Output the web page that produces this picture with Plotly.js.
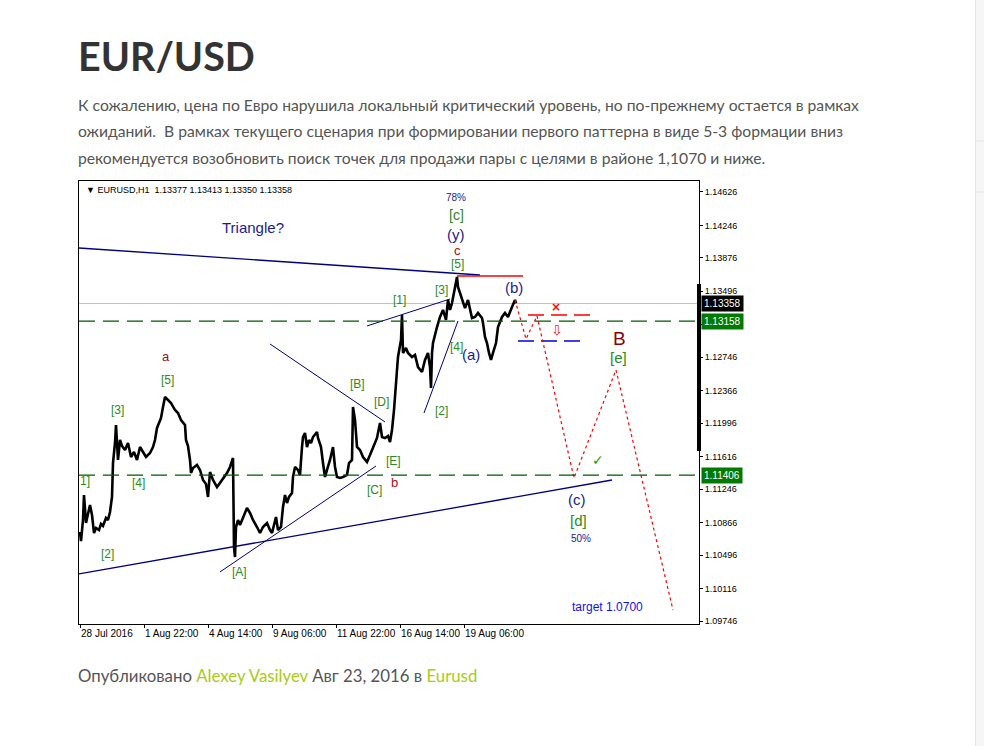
<!DOCTYPE html>
<html><head><meta charset="utf-8">
<script src="https://cdn.plot.ly/plotly-3.0.1.min.js"></script>
<style>html,body{margin:0;padding:0;background:#fff;overflow:hidden}#chart{width:984px;height:746px}</style>
</head><body><div id="chart"></div>
<script>
// ---- price path (H1 bars, bar index from 28 Jul 2016) ----
const barIndex = [0,1,3,4,6,8,10,12,14,16,19,21,23,26,28,30,31,32,33,35,36,37,38,40,42,45,48,51,54,57,60,63,66,70,73,75,77,79,81,83,85,88,91,95,98,101,105,106,108,110,111,
113,117,120,123,126,128,130,133,137,140,143,147,150,152,153,154,155,156,158,160,163,165,167,170,173,177,180,183,187,190,192,196,198,201,203,205,207,209,212,
213,215,218,220,222,223,225,227,229,231,233,237,238,241,243,245,247,250,253,255,257,260,263,267,269,272,273,275,277,280,283,287,290,293,297,300,302,305,308,310,312,314,
315,317,318,320,321,322,323,326,328,332,335,338,342,345,348,350,351,352,353,357,360,363,366,368,370,372,373,375,377,378,380,383,385,388,390,392,395,398,402,403,405,407,409,411,413,416,418,422,425,428,432,435,436];
const closePrice = [1.10759,1.10656,1.10895,1.11179,1.10861,1.10986,1.11066,1.10952,1.10747,1.10804,1.10781,1.10850,1.10827,1.10918,1.10895,1.10986,1.11123,1.11157,1.11543,1.11771,1.11976,1.11748,1.11578,1.11805,1.11737,1.11691,1.11771,1.11612,1.11669,1.11578,1.11725,1.11669,1.11612,1.11657,1.11725,1.11805,1.11942,1.11998,1.12055,1.12180,1.12294,1.12260,1.12226,1.12146,1.12112,1.12033,1.11976,1.11805,1.11737,1.11578,1.11430,
1.11487,1.11521,1.11464,1.11350,1.11305,1.11157,1.11441,1.11350,1.11270,1.11316,1.11373,1.11430,1.11498,1.11578,1.11600,1.10588,1.10474,1.10815,1.10895,1.10838,1.10918,1.10986,1.11031,1.10975,1.10895,1.10815,1.10747,1.10815,1.10861,1.10781,1.10747,1.10929,1.10781,1.10815,1.11043,1.11179,1.11088,1.11157,1.11202,
1.11384,1.11498,1.11464,1.11407,1.11725,1.11839,1.11885,1.11725,1.11805,1.11771,1.11839,1.11896,1.11828,1.11725,1.11543,1.11384,1.11464,1.11578,1.11725,1.11498,1.11384,1.11373,1.11384,1.11407,1.11543,1.11578,1.12180,1.12033,1.11725,1.11691,1.11612,1.11555,1.11634,1.11725,1.11828,1.11998,1.11839,1.11828,1.11851,1.11782,1.11919,1.12146,
1.12340,1.12601,1.12749,1.12863,1.12943,1.13227,1.12795,1.12852,1.12795,1.12749,1.12772,1.12635,1.12579,1.12715,1.12795,1.12635,1.12397,1.12795,1.12908,1.13090,1.13204,1.13284,1.13170,1.13398,1.13284,1.13363,1.13432,1.13545,1.13659,1.13545,1.13477,1.13398,1.13306,1.13398,1.13284,1.13193,1.13204,1.13250,1.13193,1.13136,1.12977,1.12908,1.12795,1.12715,1.12795,1.12908,1.13090,1.13204,1.13250,1.13204,1.13318,1.13398,1.13358];

// ---- projected scenario (red dotted) ----
const projBar = [435,446,457,494,536,593];
const projPrice = [1.13398,1.12954,1.13216,1.11373,1.12601,1.09871];

// ---- axes ----
const xTickBars = [0,64,128,192,256,320,384];
const xTickLabels = ["28 Jul 2016","1 Aug 22:00","4 Aug 14:00","9 Aug 06:00","11 Aug 22:00","16 Aug 14:00","19 Aug 06:00"];
const yTickPrices = [1.14626,1.14246,1.13876,1.13496,1.13116,1.12746,1.12366,1.11996,1.11616,1.11246,1.10866,1.10496,1.10116,1.09746];

// ---- levels ----
const lastPrice = 1.13358;
const greenLevels = [1.13158,1.11406];

// ---- trend lines [bar0, price0, bar1, price1] ----
const triangleUpper = [-1,1.13989,400,1.13682];
const triangleLower = [-1,1.10281,532,1.11350];
const lineAC = [140,1.10304,296,1.11509];
const lineBD = [190,1.12897,305,1.12010];
const line13 = [287,1.13102,370,1.13409];
const line24 = [344,1.12112,378,1.13159];
const redTop = [377,1.13671,443,1.13671];
const redStop = [448,1.13227,513,1.13227];
const blueEntry = [438,1.12931,503,1.12931];

// ---- wave labels ----
const waveText  = ["Triangle?","78%","[c]","(y)","c","[5]","[3]","[1]","(b)","[4]","(a)","[2]","[B]","[D]","[E]","b","[C]","a","[5]","[3]","[4]","1]","[2]","[A]","B","[e]","(c)","[d]","50%","target 1.0700"];
const waveBar   = [173,376,376,376,377,377,361,319,434,376,391,361,277,301,313,314,294,86,87,37,58,5,27,159,539,538,497,498,501,527];
const wavePrice = [1.14217,1.14558,1.14364,1.14137,1.13966,1.13807,1.13511,1.13398,1.13534,1.12863,1.12772,1.12135,1.12442,1.12237,1.11566,1.11327,1.11236,1.12760,1.12488,1.12146,1.11316,1.11339,1.10508,1.10304,1.12954,1.12749,1.11123,1.10895,1.10679,1.09905];
const waveKind  = ["navyL","navyS","greenM","navyL","red","green","green","green","navyL","green","navyL","green","green","green","green","red","green","red","green","green","green","green","green","green","redL","greenL","navyL","greenL","navyS","blue"];

const GREEN="#2b8a1e", NAVY="#1c1c8c", DRED="#a01010", LINE="#000080";
const kindStyle = {
  navyL:{color:NAVY,size:15}, navyS:{color:NAVY,size:10}, green:{color:GREEN,size:12}, greenM:{color:GREEN,size:14},
  greenL:{color:GREEN,size:15}, red:{color:DRED,size:13}, redL:{color:"#8b0000",size:19},
  blue:{color:"#1010ee",size:12}
};

function seg(a,color,width,dash){
  return {type:"scatter",mode:"lines",x:[a[0],a[2]],y:[a[1],a[3]],line:{color:color,width:width,dash:dash||"solid"},hoverinfo:"skip",showlegend:false};
}
const traces = [
  seg(triangleUpper,LINE,1.3), seg(triangleLower,LINE,1.3), seg(lineAC,LINE,1), seg(lineBD,LINE,1),
  seg(line13,LINE,1), seg(line24,LINE,1), seg(redTop,"#ff0000",1.5),
  seg(redStop,"#ff0000",1.5,"16px,7px"), seg(blueEntry,"#0000dd",1.5,"16px,7px"),
  {type:"scatter",mode:"lines",x:barIndex,y:closePrice,line:{color:"#000",width:2.6},hoverinfo:"skip",showlegend:false},
  {type:"scatter",mode:"lines",x:projBar,y:projPrice,line:{color:"#ff0000",width:1.2,dash:"dot"},hoverinfo:"skip",showlegend:false}
];

const PX0=79, PW=620, PY1=624, PH=443;
const px = v => (v-PX0)/PW, py = v => (PY1-v)/PH;

const ann = [];
waveText.forEach((t,i)=>{
  const s = kindStyle[waveKind[i]];
  ann.push({x:waveBar[i],y:wavePrice[i],xref:"x",yref:"y",text:t,showarrow:false,borderpad:0,
    font:{family:"Liberation Sans, Arial",size:s.size,color:s.color}});
});
ann.push({x:4,y:1.14649,xref:"x",yref:"y",xanchor:"left",text:"▼ EURUSD,H1  1.13377 1.13413 1.13350 1.13358",showarrow:false,font:{family:"Liberation Sans, Arial",size:9,color:"#000"}});
ann.push({x:476,y:1.13318,xref:"x",yref:"y",text:"<b>×</b>",showarrow:false,font:{family:"DejaVu Sans",size:12,color:"#ff0000"}});
ann.push({x:477,y:1.13056,xref:"x",yref:"y",text:"⇩",showarrow:false,font:{family:"DejaVu Sans",size:14,color:"#ff2020"}});
ann.push({x:518,y:1.11578,xref:"x",yref:"y",text:"✓",showarrow:false,font:{family:"DejaVu Sans",size:14,color:"#1a9a1a"}});
// price tags on the scale
[[lastPrice,"#000"],[greenLevels[0],"#007a00"],[greenLevels[1],"#007a00"]].forEach(p=>{
  ann.push({x:px(701),y:p[0],xref:"paper",yref:"y",xanchor:"left",yanchor:"middle",text:p[0].toFixed(5),showarrow:false,
    bgcolor:p[1],borderpad:2,font:{family:"Liberation Sans, Arial",size:10,color:"#fff"}});
});
// page texts
ann.push({x:px(76),y:py(56),xref:"paper",yref:"paper",xanchor:"left",yanchor:"middle",showarrow:false,
  text:"<b>EUR/USD</b>",font:{family:"Lato",size:39.5,color:"#333"}});
const para = ["К сожалению, цена по Евро нарушила локальный критический уровень, но по-прежнему остается в рамках",
  "ожиданий.  В рамках текущего сценария при формировании первого паттерна в виде 5-3 формации вниз",
  "рекомендуется возобновить поиск точек для продажи пары с целями в районе 1,1070 и ниже."];
const paraY=[105,131,158];
para.forEach((t,i)=>ann.push({x:px(76),y:py(paraY[i]),xref:"paper",yref:"paper",xanchor:"left",yanchor:"middle",showarrow:false,
  text:t,font:{family:"Lato",size:15.7,color:"#555"}}));
ann.push({x:px(76),y:py(675),xref:"paper",yref:"paper",xanchor:"left",yanchor:"middle",showarrow:false,
  text:'Опубликовано <span style="color:#a8cc14">Alexey Vasilyev</span> Авг 23, 2016 в <span style="color:#a8cc14">Eurusd</span>',
  font:{family:"Lato",size:16.8,color:"#555"}});

const shapes = [
  {type:"rect",xref:"paper",yref:"paper",x0:px(975),x1:px(990),y0:py(-5),y1:py(760),fillcolor:"#f6f6f6",line:{width:0}},
  {type:"line",xref:"paper",yref:"paper",x0:px(975.5),x1:px(975.5),y0:py(-5),y1:py(760),line:{color:"#e4e4e4",width:1}},
  {type:"line",xref:"paper",yref:"paper",x0:px(976),x1:px(990),y0:py(141),y1:py(141),line:{color:"#e4e4e4",width:1}},
  {type:"line",xref:"paper",yref:"paper",x0:px(976),x1:px(990),y0:py(192),y1:py(192),line:{color:"#e4e4e4",width:1}},
  {type:"line",xref:"paper",yref:"y",x0:0,x1:1,y0:lastPrice,y1:lastPrice,line:{color:"#c0c0c0",width:1},layer:"below"},
  {type:"line",xref:"paper",yref:"y",x0:0,x1:1,y0:greenLevels[0],y1:greenLevels[0],line:{color:"#005a00",width:1.2,dash:"16px,8px"}},
  {type:"line",xref:"paper",yref:"y",x0:0,x1:1,y0:greenLevels[1],y1:greenLevels[1],line:{color:"#005a00",width:1.2,dash:"16px,8px"}},
  {type:"rect",xref:"paper",yref:"y",x0:px(697),x1:px(701),y0:1.11680,y1:1.13579,fillcolor:"#000",line:{width:0}}
];

const layout = {
  width:984,height:746,margin:{l:79,r:285,t:181,b:122},
  paper_bgcolor:"#fff",plot_bgcolor:"#fff",showlegend:false,
  xaxis:{range:[-1,619],showgrid:false,zeroline:false,showline:true,mirror:true,linecolor:"#000",linewidth:1,
    tickmode:"array",tickvals:xTickBars,ticktext:xTickLabels,ticks:"outside",ticklen:3,tickcolor:"#000",tickangle:0,
    ticklabelposition:"outside right",tickfont:{family:"Liberation Sans, Arial",size:10,color:"#000"}},
  yaxis:{range:[1.09712,1.14751],side:"right",showgrid:false,zeroline:false,showline:true,mirror:true,linecolor:"#000",linewidth:1,
    tickmode:"array",tickvals:yTickPrices,ticktext:yTickPrices.map(v=>v.toFixed(5)),ticks:"outside",ticklen:3,tickcolor:"#000",
    tickfont:{family:"Liberation Sans, Arial",size:9,color:"#000"}},
  annotations:ann,shapes:shapes
};
Plotly.newPlot("chart",traces,layout,{staticPlot:true,displayModeBar:false});
</script></body></html>
